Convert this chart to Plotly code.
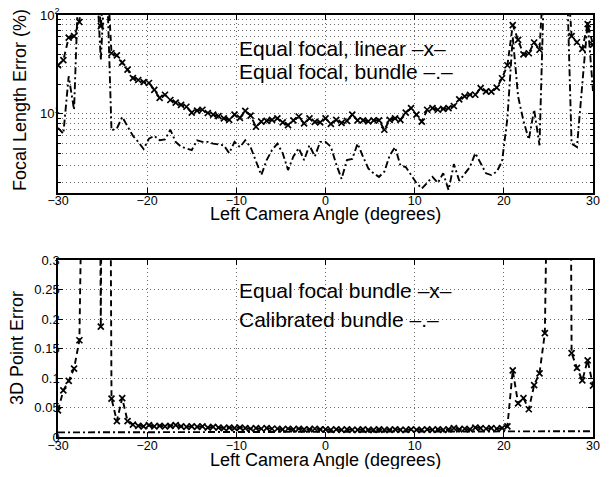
import plotly.graph_objects as go

# ---- data ----
angle = [
    -30.0, -29.4, -28.8, -28.2, -27.6, -27.0, -26.4, -25.8, -25.2, -24.6,
    -24.0, -23.4, -22.8, -22.2, -21.6, -21.0, -20.4, -19.8, -19.2, -18.6,
    -18.0, -17.4, -16.8, -16.2, -15.6, -15.0, -14.4, -13.8, -13.2, -12.6,
    -12.0, -11.4, -10.8, -10.2, -9.6, -9.0, -8.4, -7.8, -7.2, -6.6,
    -6.0, -5.4, -4.8, -4.2, -3.6, -3.0, -2.4, -1.8, -1.2, -0.6,
    0.0, 0.6, 1.2, 1.8, 2.4, 3.0, 3.6, 4.2, 4.8, 5.4,
    6.0, 6.6, 7.2, 7.8, 8.4, 9.0, 9.6, 10.2, 10.8, 11.4,
    12.0, 12.6, 13.2, 13.8, 14.4, 15.0, 15.6, 16.2, 16.8, 17.4,
    18.0, 18.6, 19.2, 19.8, 20.4, 21.0, 21.6, 22.2, 22.8, 23.4,
    24.0, 24.6, 25.2, 25.8, 26.4, 27.0, 27.6, 28.2, 28.8, 29.4,
    30.0,
]

# Focal length error (%), equal focal, linear
focal_linear = [
    31, 35, 59, 61, 85, 400, 400, 400, 77, 400,
    41, 39, 33, 28, 23, 22, 21, 20.5, 17.5, 14.5,
    15.6, 13.8, 13, 12.3, 11.8, 10.3, 10.8, 11, 10.2, 9.8,
    9.5, 9.0, 8.7, 9.8, 9.1, 10.7, 9.6, 7.4, 8.35, 8.5,
    8.7, 9.0, 8.2, 7.7, 8.6, 9.4, 8.0, 9.0, 8.3, 8.2,
    9.0, 7.9, 8.7, 8.1, 8.5, 9.8, 8.6, 8.6, 8.4, 8.6,
    8.6, 6.9, 8.7, 9.0, 8.7, 10.3, 11.4, 9.8, 8.35, 11,
    11.4, 11, 11.2, 11.4, 12, 14, 15, 15.6, 15.6, 18.2,
    16.9, 16.8, 18.4, 22.9, 31, 79, 56, 40, 41, 52.7,
    44.5, 400, 400, 400, 400, 400, 61, 53, 45.5, 81,
    50,
]

# Focal length error (%), equal focal, bundle
focal_bundle = [
    7.2, 6.3, 24, 11, 400, 400, 400, 400, 35, 400,
    6.8, 7.1, 9.3, 7.5, 6.0, 5.2, 4.4, 5.6, 6.0, 5.4,
    5.5, 6.9, 5.2, 4.65, 4.5, 4.3, 5.4, 5.2, 5.2, 5.0,
    4.9, 4.8, 4.0, 5.2, 4.6, 5.4, 4.6, 3.4, 2.4, 3.4,
    4.3, 5.0, 4.0, 2.7, 3.7, 4.5, 3.4, 4.8, 3.7, 5.2,
    5.2, 4.65, 3.1, 2.2, 3.4, 3.5, 5.0, 3.7, 2.8, 2.5,
    2.3, 2.6, 3.8, 4.6, 3.0, 2.9, 2.4, 2.0, 1.75, 2.0,
    2.3, 2.0, 2.5, 1.7, 3.1, 2.1, 2.5, 2.9, 4.0, 3.2,
    2.5, 2.4, 2.6, 3.3, 9, 60, 15, 8.5, 5.5, 11,
    4.8, 400, 400, 400, 400, 400, 5.0, 4.6, 20, 85,
    17,
]

# 3D point error, equal focal bundle
point_equal = [
    0.045, 0.079, 0.095, 0.116, 0.164, 2.0, 2.0, 2.0, 0.187, 2.0,
    0.065, 0.027, 0.066, 0.027, 0.021, 0.019, 0.018, 0.020, 0.018, 0.019,
    0.018, 0.019, 0.020, 0.018, 0.017, 0.018, 0.017, 0.018, 0.016, 0.017,
    0.016, 0.015, 0.016, 0.015, 0.016, 0.015, 0.014, 0.015, 0.014, 0.015,
    0.014, 0.014, 0.013, 0.014, 0.013, 0.014, 0.013, 0.013, 0.014, 0.013,
    0.013, 0.012, 0.013, 0.012, 0.013, 0.012, 0.012, 0.013, 0.012, 0.012,
    0.013, 0.012, 0.012, 0.013, 0.012, 0.012, 0.013, 0.012, 0.012, 0.013,
    0.012, 0.013, 0.012, 0.013, 0.015, 0.013, 0.014, 0.013, 0.016, 0.015,
    0.014, 0.015, 0.014, 0.015, 0.018, 0.113, 0.057, 0.066, 0.047, 0.088,
    0.108, 0.176, 2.0, 2.0, 2.0, 2.0, 0.142, 0.117, 0.096, 0.130,
    0.087,
]

# 3D point error, calibrated bundle
point_calib = [
    0.0078, 0.0078, 0.0079, 0.0078, 0.0079, 0.0079, 0.0080, 0.0079, 0.0080, 0.0080,
    0.0080, 0.0081, 0.0080, 0.0081, 0.0081, 0.0081, 0.0082, 0.0081, 0.0082, 0.0082,
    0.0082, 0.0083, 0.0082, 0.0083, 0.0083, 0.0083, 0.0084, 0.0083, 0.0084, 0.0084,
    0.0084, 0.0085, 0.0084, 0.0085, 0.0085, 0.0085, 0.0086, 0.0085, 0.0086, 0.0086,
    0.0086, 0.0087, 0.0086, 0.0087, 0.0087, 0.0087, 0.0088, 0.0087, 0.0088, 0.0088,
    0.0088, 0.0088, 0.0089, 0.0088, 0.0089, 0.0089, 0.0089, 0.0090, 0.0089, 0.0090,
    0.0090, 0.0090, 0.0091, 0.0090, 0.0091, 0.0091, 0.0091, 0.0092, 0.0091, 0.0092,
    0.0092, 0.0092, 0.0093, 0.0092, 0.0093, 0.0093, 0.0093, 0.0094, 0.0093, 0.0094,
    0.0094, 0.0094, 0.0095, 0.0094, 0.0095, 0.0095, 0.0095, 0.0096, 0.0095, 0.0096,
    0.0096, 0.0096, 0.0097, 0.0096, 0.0097, 0.0097, 0.0097, 0.0097, 0.0098, 0.0097,
    0.0098,
]

x_ticks = [-30, -20, -10, 0, 10, 20, 30]
top_major = [10, 100]
top_major_text = ["10<sup>1</sup>", "10<sup>2</sup>"]
top_minor = [2, 3, 4, 5, 6, 7, 8, 9, 20, 30, 40, 50, 60, 70, 80, 90]
bot_ticks = [0, 0.05, 0.1, 0.15, 0.2, 0.25, 0.3]
bot_ticktext = ["0", "0.05", "0.1", "0.15", "0.2", "0.25", "0.3"]

FONT = "Liberation Sans, Arial, Helvetica, sans-serif"
# the page body keeps an 8px margin, so the figure is drawn 8px in from the window edge
OFF = 8
W, H = 611 - 2 * OFF, 477 - 2 * OFF


def xp(px):
    return (px - OFF) / W


def yp(py):
    return 1 - (py - OFF) / H


GRID = "#6a6a6a"
GDASH = "1px,3px"

fig = go.Figure()

dash_x = "6px,4px"
dash_dot = "7px,3px,2px,3px"
marker_x = dict(symbol="x-thin", size=6, color="black", line=dict(color="black", width=1.7))
LW = 1.9

fig.add_trace(go.Scatter(x=angle, y=focal_linear, mode="lines+markers",
                         line=dict(color="black", width=LW, dash=dash_x),
                         marker=marker_x, xaxis="x", yaxis="y", cliponaxis=True))
fig.add_trace(go.Scatter(x=angle, y=focal_bundle, mode="lines",
                         line=dict(color="black", width=LW, dash=dash_dot),
                         xaxis="x", yaxis="y", cliponaxis=True))
fig.add_trace(go.Scatter(x=angle, y=point_calib, mode="lines",
                         line=dict(color="black", width=LW, dash=dash_dot),
                         xaxis="x2", yaxis="y2", cliponaxis=True))
fig.add_trace(go.Scatter(x=angle, y=point_equal, mode="lines+markers",
                         line=dict(color="black", width=LW, dash=dash_x),
                         marker=marker_x, xaxis="x2", yaxis="y2", cliponaxis=True))

xdom = [xp(58), xp(593)]
common_x = dict(range=[-30, 30], tickmode="array", tickvals=x_ticks,
                ticks="inside", ticklen=5, tickcolor="black", tickwidth=1,
                showline=True, linecolor="black", linewidth=1.5, mirror="ticks",
                showgrid=True, gridcolor=GRID, griddash=GDASH, gridwidth=1,
                zeroline=False, automargin=False, ticklabelstandoff=-4,
                ticklabeloverflow="allow",
                tickfont=dict(size=12.5, family=FONT, color="black"),
                domain=xdom)

common_y = dict(ticks="inside", ticklen=5, tickcolor="black",
                showline=True, linecolor="black", linewidth=1.5, mirror="ticks",
                showgrid=True, gridcolor=GRID, griddash=GDASH, gridwidth=1,
                zeroline=False, automargin=False, ticklabelstandoff=-6,
                ticklabeloverflow="allow",
                tickfont=dict(size=13, family=FONT, color="black"))

fig.update_layout(
    template="none",
    width=W, height=H,
    margin=dict(l=0, r=0, t=0, b=0, pad=0),
    paper_bgcolor="white", plot_bgcolor="white",
    showlegend=False,
    font=dict(family=FONT, color="black", size=13),
    xaxis=dict(common_x, anchor="y"),
    yaxis=dict(common_y, type="log", range=[0.204, 2], domain=[yp(192.5), yp(15)],
               anchor="x", tickmode="array", tickvals=top_major, ticktext=top_major_text,
               minor=dict(tickmode="array", tickvals=top_minor, ticks="inside",
                          ticklen=3, tickcolor="black", showgrid=True,
                          gridcolor=GRID, griddash=GDASH, gridwidth=1)),
    xaxis2=dict(common_x, anchor="y2"),
    yaxis2=dict(common_y, range=[0, 0.3], domain=[yp(437), yp(260)], anchor="x2",
                tickmode="array", tickvals=bot_ticks, ticktext=bot_ticktext),
)

ann = []


def txt(text, x, y, size, **kw):
    d = dict(text=text, x=xp(x), y=yp(y), xref="paper", yref="paper", showarrow=False,
             font=dict(size=size, family=FONT, color="black"))
    d.update(kw)
    ann.append(d)


# in-plot labels
txt("Equal focal, linear \u2013x\u2013", 237, 49, 21, xanchor="left", yanchor="middle")
txt("Equal focal, bundle \u2013.\u2013", 237, 71, 21, xanchor="left", yanchor="middle")
txt("Equal focal bundle \u2013x\u2013", 237, 290, 21, xanchor="left", yanchor="middle")
txt("Calibrated bundle \u2013.\u2013", 237, 319, 21, xanchor="left", yanchor="middle")

# axis titles
txt("Left Camera Angle (degrees)", 325.5, 214, 18, xanchor="center", yanchor="middle")
txt("Left Camera Angle (degrees)", 325.5, 459.5, 18, xanchor="center", yanchor="middle")
txt("Focal Length Error (%)", 20, 100, 18, xanchor="center", yanchor="middle", textangle=-90)
txt("3D Point Error", 17, 348, 18, xanchor="center", yanchor="middle", textangle=-90)

fig.update_layout(annotations=ann)

fig.write_html("out.html")
